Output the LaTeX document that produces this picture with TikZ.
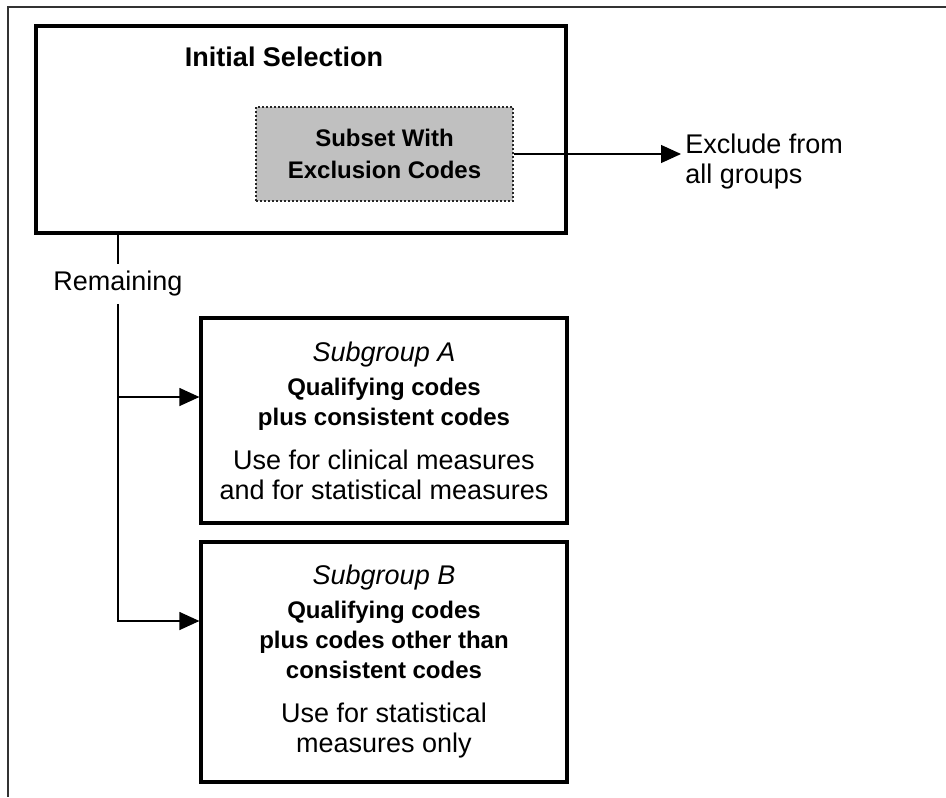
\documentclass[tikz,border=0pt]{standalone}
\usepackage{fontspec}
\setmainfont{Liberation Sans}
\usetikzlibrary{arrows.meta}

\definecolor{subsetgray}{HTML}{C0C0C0}
\newcommand{\codefont}{\fontsize{12}{15}\selectfont\bfseries}

\begin{document}
\begin{tikzpicture}[x=0.5pt, y=-0.5pt, >={Triangle[length=10pt,width=9pt]},
    every node/.style={font=\fontsize{13.5}{15}\selectfont},
    box/.style={draw, line width=1.6pt, inner sep=0pt, align=center},
    link/.style={line width=0.6pt}]

  \useasboundingbox (0,0) rectangle (946,797);

  % Frame
  \draw[line width=1pt, black!80] (946,7) -- (8,7) -- (8,797);

  % Initial selection
  \node[box, minimum width=265pt, minimum height=103.5pt] (initial) at (301,129.5) {};
  \node[font=\fontsize{13.5}{15}\selectfont\bfseries] (title) at (284,57) {Initial Selection};

  % Subset with exclusion codes
  \node[draw=black!85, densely dotted, line width=1pt, fill=subsetgray,
        minimum width=128.5pt, minimum height=47pt, align=center,
        font=\fontsize{12}{16}\selectfont\bfseries] (subset) at (384.5,154)
    {Subset With\\Exclusion Codes};
  \node[anchor=north west, align=left, inner sep=2pt] (exclude) at (681,130)
    {Exclude from\\all groups};
  \draw[link, ->] (subset.east) -- (subset.east -| exclude.west);

  % Subgroups
  \node[box, minimum width=183pt, minimum height=102.5pt] (subA) at (384,420.5)
    {\textit{Subgroup A}\\[2pt]
     {\codefont Qualifying codes}\\
     {\codefont plus consistent codes}\\[7pt]
     Use for clinical measures\\
     and for statistical measures};
  \node[box, minimum width=183pt, minimum height=120pt] (subB) at (384,662)
    {\textit{Subgroup B}\\[2pt]
     {\codefont Qualifying codes}\\
     {\codefont plus codes other than}\\
     {\codefont consistent codes}\\[7pt]
     Use for statistical\\
     measures only};

  % Remaining records
  \node[inner xsep=2pt, inner ysep=3.5pt] (remain) at (118,284) {Remaining};
  \coordinate (jA) at (118,397);
  \coordinate (jB) at (118,621);
  \draw[link] (initial.south -| remain.north) -- (remain.north);
  \draw[link, ->] (remain.south) -- (jB) -- (jB -| subB.west);
  \draw[link, ->] (jA) -- (jA -| subA.west);

\end{tikzpicture}
\end{document}
